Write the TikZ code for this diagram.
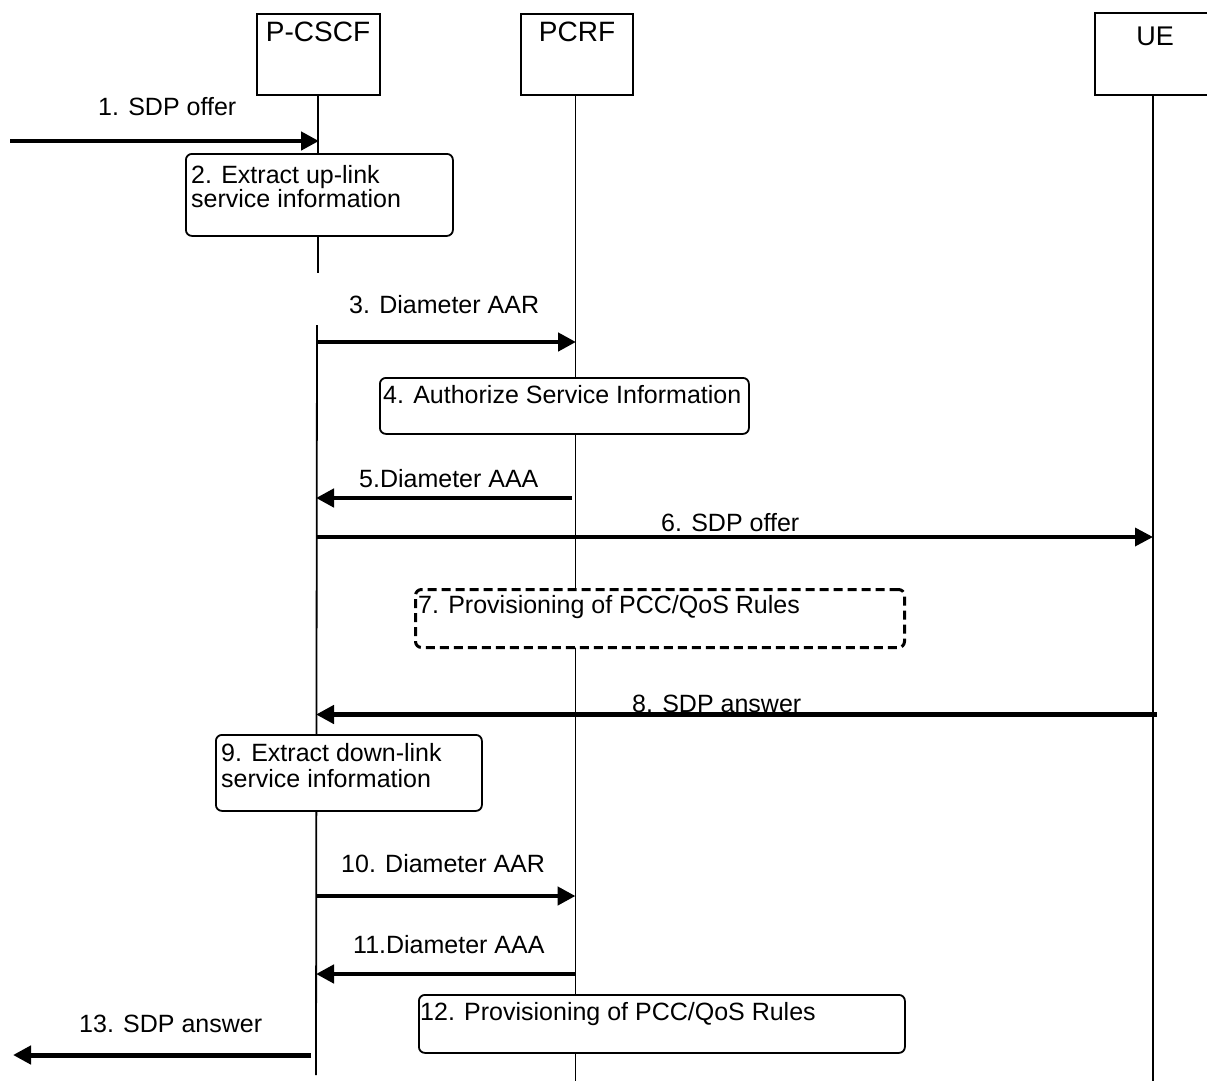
\documentclass[tikz,border=0pt]{standalone}
\usepackage{fontspec}
\setmainfont{Liberation Sans}
\usetikzlibrary{arrows.meta}
\begin{document}
\begin{tikzpicture}[x=1pt,y=-1pt,
  ent/.style={draw, line width=1.8pt, fill=white, inner sep=0pt, anchor=north west},
  enttext/.style={font=\fontsize{28}{32}\selectfont, anchor=base, inner sep=0pt},
  life/.style={line width=1.8pt},
  msg/.style={line width=4.5pt, -{Triangle[length=18pt,width=18pt]}},
  lbl/.style={font=\fontsize{25}{28}\selectfont, anchor=base west, inner sep=0pt},
  actbox/.style={draw, line width=1.8pt, fill=white, rounded corners=6pt, anchor=north west, inner sep=0pt},
  dashbox/.style={actbox, line width=3pt, dash pattern=on 9pt off 5pt}
]
\useasboundingbox (0,0) rectangle (1207,1081);

% entities
\node[ent, minimum width=123pt, minimum height=81pt] (pcscf) at (256,13) {};
\node[ent, minimum width=112pt, minimum height=81pt] (pcrf) at (520,13) {};
\node[ent, minimum width=125pt, minimum height=82pt] (ue) at (1094,12) {};
\node[enttext] (pcscft) at (318,42) {P-CSCF};
\node[enttext] (pcrft) at (577,42) {PCRF};
\node[enttext, font=\fontsize{27}{30}\selectfont] (uet) at (1155,46) {UE};

% lifeline coordinates
\coordinate (pcA) at (318,94);
\coordinate (pcB) at (318,273);
\coordinate (pcC) at (317,325);
\coordinate (pcD) at (316,1075);
\coordinate (prA) at (575.5,94);
\coordinate (prD) at (575.5,1081);
\coordinate (ueA) at (1153,94);
\coordinate (ueD) at (1153,1081);

\draw[life] (pcA) -- (pcB);
\draw[life] (pcC) -- (pcD);
\draw[life] (prA) -- (prD);
\draw[life] (ueA) -- (ueD);

% action boxes
\node[actbox, minimum width=267pt, minimum height=82pt] (b2) at (185,153) {};
\node[actbox, minimum width=369pt, minimum height=56pt] (b4) at (379,377) {};
\node[dashbox, minimum width=489pt, minimum height=58pt] (b7) at (414,588) {};
\node[actbox, minimum width=266pt, minimum height=76pt] (b9) at (215,734) {};
\node[actbox, minimum width=486pt, minimum height=58pt] (b12) at (418,994) {};

\node[lbl] (t2a) at (191,183) {2. Extract up-link};
\node[lbl] (t2b) at (191,207) {service information};
\node[lbl] (t4) at (383,403) {4. Authorize Service Information};
\node[lbl] (t7) at (418,613) {7. Provisioning of PCC/QoS Rules};
\node[lbl] (t9a) at (221,761) {9. Extract down-link};
\node[lbl] (t9b) at (221,787) {service information};
\node[lbl] (t12) at (420,1020) {12. Provisioning of PCC/QoS Rules};

% message end points
\coordinate (m1a) at (10,141);   \coordinate (m1b) at (319,141);
\coordinate (m3a) at (317,342);  \coordinate (m3b) at (576,342);
\coordinate (m5a) at (572,498);  \coordinate (m5b) at (316,498);
\coordinate (m6a) at (317,537);  \coordinate (m6b) at (1153,537);
\coordinate (m8a) at (1157,714.5); \coordinate (m8b) at (316,714.5);
\coordinate (m10a) at (316,896); \coordinate (m10b) at (575.5,896);
\coordinate (m11a) at (575.5,974); \coordinate (m11b) at (316,974);
\coordinate (m13a) at (311,1055); \coordinate (m13b) at (13,1055);

\draw[msg] (m1a) -- (m1b);
\draw[msg] (m3a) -- (m3b);
\draw[msg] (m5a) -- (m5b);
\draw[msg, line width=3.5pt] (m6a) -- (m6b);
\draw[msg] (m8a) -- (m8b);
\draw[msg] (m10a) -- (m10b);
\draw[msg] (m11a) -- (m11b);
\draw[msg, line width=5pt] (m13a) -- (m13b);

% message labels
\node[lbl] (l1) at (98,115) {1. SDP offer};
\node[lbl] (l3) at (349,313) {3. Diameter AAR};
\node[lbl] (l5) at (359,487) {5.Diameter AAA};
\node[lbl] (l6) at (661,531) {6. SDP offer};
\node[lbl] (l8) at (632,712) {8. SDP answer};
\node[lbl] (l10) at (341,872) {10. Diameter AAR};
\node[lbl] (l11) at (353,953) {11.Diameter AAA};
\node[lbl] (l13) at (79,1032) {13. SDP answer};
\end{tikzpicture}
\end{document}
